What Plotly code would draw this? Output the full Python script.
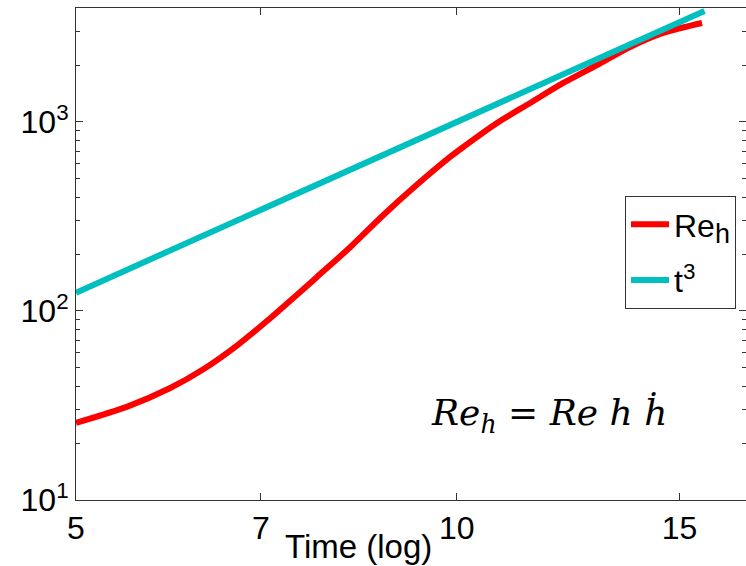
import plotly.graph_objects as go

# Reynolds number based on mixing-layer height, sampled along time
time_re = [5.00, 5.49, 5.93, 6.30, 6.71, 7.12, 7.29, 7.52, 7.75, 8.24, 8.75,
           9.30, 9.88, 10.12, 10.76, 11.43, 12.14, 12.91, 13.71, 14.56, 15.63]
re_h = [25.6, 31.2, 39.0, 49.0, 66.0, 91.5, 105, 126, 151, 218, 322,
        465, 653, 737, 988, 1260, 1608, 2002, 2494, 2957, 3340]

# Reference power law t^3
time_ref = [5.0, 7.0, 10.0, 15.7]
t_cubed = [125, 343, 1000, 3870]

x_ticks = [5, 7, 10, 15]
y_ticks = [10, 100, 1000]
y_ticktext = ["10<sup>1</sup>", "10<sup>2</sup>", "10<sup>3</sup>"]

axis_color = "#333333"
font_main = "Liberation Sans, Arial, sans-serif"

fig = go.Figure()
fig.add_trace(go.Scatter(
    x=time_re, y=re_h, mode="lines",
    name='Re<sub><span style="font-size:27px">h</span></sub>',
    line=dict(color="#ff0000", width=6, shape="spline", smoothing=0.8),
    legendgroup="a"))
fig.add_trace(go.Scatter(
    x=time_ref, y=t_cubed, mode="lines", name="t<sup>3</sup>",
    line=dict(color="#00bfbf", width=6), legendgroup="b"))

minor_y = [m * 10 ** e for e in (1, 2, 3) for m in range(2, 10) if m * 10 ** e < 4100]

fig.update_layout(
    width=746, height=566,
    margin=dict(l=76, r=0, t=8, b=66),
    paper_bgcolor="white", plot_bgcolor="white",
    font=dict(family=font_main, size=32, color="black"),
    showlegend=True,
    legend=dict(
        x=0.8194, y=0.6179, xanchor="left", yanchor="top",
        bordercolor=axis_color, borderwidth=1, bgcolor="white",
        font=dict(size=32), tracegroupgap=11, traceorder="grouped",
        itemwidth=38),
    xaxis=dict(
        type="log", range=[0.69897, 1.2287],
        tickmode="array", tickvals=x_ticks, ticktext=[str(v) for v in x_ticks],
        ticks="inside", ticklen=7, tickcolor=axis_color, tickwidth=1,
        showline=True, linecolor=axis_color, linewidth=1, mirror="ticks",
        showgrid=False, zeroline=False,
        tickfont=dict(size=32)),
    yaxis=dict(
        type="log", range=[1, 3.603],
        tickmode="array", tickvals=y_ticks, ticktext=y_ticktext,
        ticks="inside", ticklen=7, tickcolor=axis_color, tickwidth=1,
        showline=True, linecolor=axis_color, linewidth=1, mirror="ticks",
        showgrid=False, zeroline=False,
        tickfont=dict(size=32),
        minor=dict(tickmode="array", tickvals=minor_y, ticks="inside",
                   ticklen=4, tickcolor=axis_color, showgrid=False)),
)

fig.add_annotation(
    text="Time (log)", xref="paper", yref="paper",
    x=0.4209, y=-0.0935, xanchor="center", yanchor="middle",
    showarrow=False, font=dict(size=33, family=font_main))

fig.add_annotation(
    text="<i>Re<sub>h</sub></i> = <i>Re h ḣ</i>", xref="paper", yref="paper",
    x=0.5269, y=0.172, xanchor="left", yanchor="middle",
    showarrow=False, font=dict(size=36, family="DejaVu Serif, serif"))

fig.write_html("out.html")
